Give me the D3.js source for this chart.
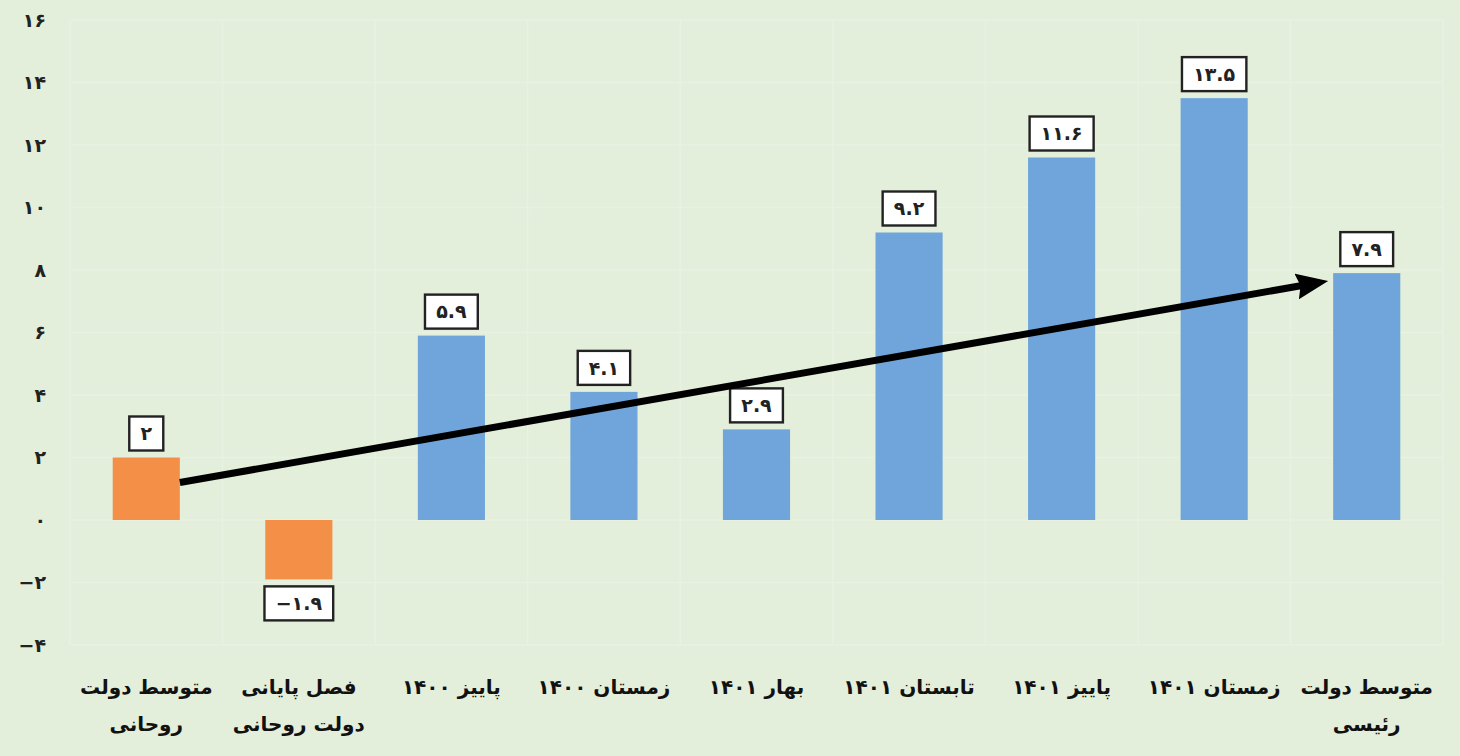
<!DOCTYPE html>
<html>
<head>
<meta charset="utf-8">
<script src="https://cdn.jsdelivr.net/npm/d3@7"></script>
<style>
  body { margin: 0; background: #e3eedb; }
  svg { display: block; }
</style>
</head>
<body>
<div id="chart"></div>
<script>
// categories (two lines where the original breaks them)
var categories = [
    ['متوسط دولت', 'روحانی'],
    ['فصل پایانی', 'دولت روحانی'],
    ['پاییز ۱۴۰۰'],
    ['زمستان ۱۴۰۰'],
    ['بهار ۱۴۰۱'],
    ['تابستان ۱۴۰۱'],
    ['پاییز ۱۴۰۱'],
    ['زمستان ۱۴۰۱'],
    ['متوسط دولت', 'رئیسی']
];
var values = [2, -1.9, 5.9, 4.1, 2.9, 9.2, 11.6, 13.5, 7.9];
var groups = ['rouhani', 'rouhani', 'raisi', 'raisi', 'raisi', 'raisi', 'raisi', 'raisi', 'raisi'];
var yTicks = [-4, -2, 0, 2, 4, 6, 8, 10, 12, 14, 16];
// trend arrow: from right edge of first bar to left edge of last bar
var arrowFrom = { index: 0, value: 1.2 };
var arrowTo = { index: 8, value: 7.65 };

var width = 1460, height = 756;
var margin = { top: 20, right: 17, bottom: 111, left: 70 };

function fa(n) {
    var s = String(Math.abs(n)).replace(/[0-9]/g, function(d) { return '۰۱۲۳۴۵۶۷۸۹'[+d]; });
    return (n < 0 ? '−' : '') + s;
}

var svg = d3.select('#chart').append('svg')
    .attr('width', width)
    .attr('height', height);

svg.append('rect')
    .attr('width', width)
    .attr('height', height)
    .attr('fill', '#e3eedb');

var x = d3.scaleBand()
    .domain(d3.range(categories.length))
    .range([margin.left, width - margin.right])
    .paddingInner(0.56)
    .paddingOuter(0.28);

var xGrid = d3.scaleBand()
    .domain(d3.range(categories.length))
    .range([margin.left, width - margin.right]);

var y = d3.scaleLinear()
    .domain([-4, 16])
    .range([height - margin.bottom, margin.top]);

var color = d3.scaleOrdinal()
    .domain(['rouhani', 'raisi'])
    .range(['#f38f46', '#6fa5db']);

// grid
var grid = svg.append('g').attr('stroke', '#e9f1e3').attr('stroke-width', 1.5);
grid.selectAll('line.h')
    .data(yTicks)
    .join('line')
    .attr('class', 'h')
    .attr('x1', margin.left)
    .attr('x2', width - margin.right)
    .attr('y1', function(d) { return y(d); })
    .attr('y2', function(d) { return y(d); });
grid.selectAll('line.v')
    .data(d3.range(categories.length + 1))
    .join('line')
    .attr('class', 'v')
    .attr('x1', function(i) { return i < categories.length ? xGrid(i) : width - margin.right; })
    .attr('x2', function(i) { return i < categories.length ? xGrid(i) : width - margin.right; })
    .attr('y1', y(16))
    .attr('y2', y(-4));

// y axis
var yAxis = svg.append('g')
    .attr('transform', 'translate(' + margin.left + ',0)')
    .call(d3.axisLeft(y).tickValues(yTicks).tickSize(0).tickPadding(24).tickFormat(fa));
yAxis.select('.domain').remove();
yAxis.selectAll('text')
    .style('font-family', 'DejaVu Sans')
    .style('font-weight', 'bold')
    .style('font-size', '19px')
    .attr('fill', '#222');

// bars
svg.append('g')
    .selectAll('rect')
    .data(values)
    .join('rect')
    .attr('x', function(d, i) { return x(i); })
    .attr('width', x.bandwidth())
    .attr('y', function(d) { return y(Math.max(0, d)); })
    .attr('height', function(d) { return Math.abs(y(d) - y(0)); })
    .attr('fill', function(d, i) { return color(groups[i]); });

// value labels in white boxes
var labels = svg.append('g')
    .selectAll('g')
    .data(values)
    .join('g')
    .attr('transform', function(d, i) {
        var cx = x(i) + x.bandwidth() / 2;
        var cy = d >= 0 ? y(d) - 24 : y(d) + 24;
        return 'translate(' + cx + ',' + cy + ')';
    });
labels.append('text')
    .attr('text-anchor', 'middle')
    .attr('dy', '0.36em')
    .style('font-family', 'DejaVu Sans')
    .style('font-weight', 'bold')
    .style('font-size', '19px')
    .attr('fill', '#222')
    .text(function(d) { return fa(d); });
labels.each(function() {
    var g = d3.select(this);
    var bb = g.select('text').node().getBBox();
    var w = Math.max(bb.width + 22, 32);
    g.insert('rect', 'text')
        .attr('x', -w / 2)
        .attr('y', -17)
        .attr('width', w)
        .attr('height', 34)
        .attr('fill', '#fff')
        .attr('stroke', '#222')
        .attr('stroke-width', 2.4);
});

// trend arrow
var headLen = 32, headBack = 22;
svg.append('defs').append('marker')
    .attr('id', 'head')
    .attr('viewBox', '0 0 32 26')
    .attr('refX', headLen - headBack)
    .attr('refY', 13)
    .attr('markerWidth', 32)
    .attr('markerHeight', 26)
    .attr('orient', 'auto')
    .attr('markerUnits', 'userSpaceOnUse')
    .append('path')
    .attr('d', 'M0,0L32,13L0,26L4,13Z')
    .attr('fill', '#000');

var ax1 = x(arrowFrom.index) + x.bandwidth(), ay1 = y(arrowFrom.value);
var tipX = x(arrowTo.index) - 5, tipY = y(arrowTo.value);
var len = Math.hypot(tipX - ax1, tipY - ay1);
svg.append('line')
    .attr('x1', ax1)
    .attr('y1', ay1)
    .attr('x2', tipX - headBack * (tipX - ax1) / len)
    .attr('y2', tipY - headBack * (tipY - ay1) / len)
    .attr('stroke', '#000')
    .attr('stroke-width', 7)
    .attr('marker-end', 'url(#head)');

// category labels
var cat = svg.append('g')
    .selectAll('text')
    .data(categories)
    .join('text')
    .attr('direction', 'rtl')
    .attr('text-anchor', 'middle')
    .attr('x', function(d, i) { return x(i) + x.bandwidth() / 2; })
    .attr('y', height - margin.bottom + 49)
    .style('font-family', 'DejaVu Sans')
    .style('font-weight', 'bold')
    .style('font-size', '20px')
    .attr('fill', '#111');
cat.selectAll('tspan')
    .data(function(d) { return d; })
    .join('tspan')
    .attr('x', function() { return d3.select(this.parentNode).attr('x'); })
    .attr('dy', function(d, i) { return i === 0 ? 0 : 37; })
    .text(function(d) { return d; });
</script>
</body>
</html>
